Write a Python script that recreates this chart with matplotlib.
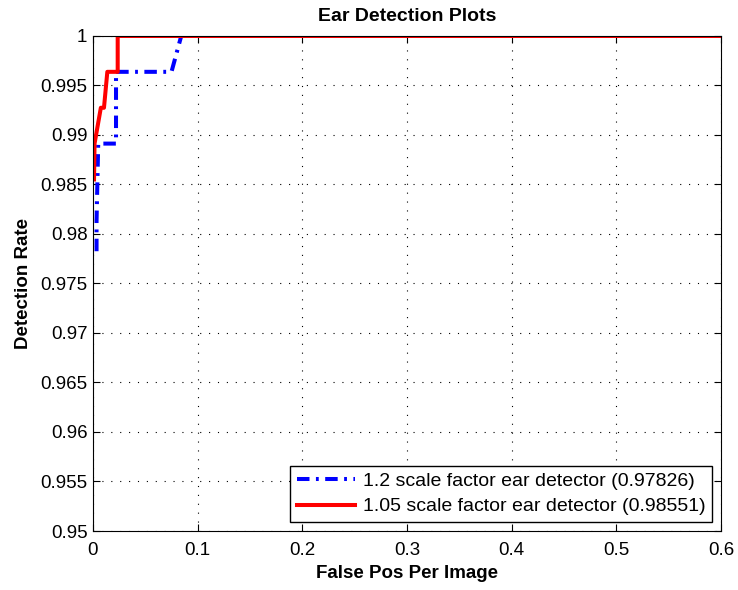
import matplotlib
matplotlib.use("Agg")
import matplotlib.pyplot as plt

plt.rcParams["font.family"] = ["Liberation Sans", "DejaVu Sans"]

# ROC-style curves: false positives per image vs. detection rate
fppi_12 = [0.0034, 0.0034, 0.0050, 0.0096, 0.0220, 0.0220, 0.0750, 0.0843, 0.6]
rate_12 = [0.97826, 0.98130, 0.98913, 0.98913, 0.98913, 0.99638, 0.99638, 1.0, 1.0]

fppi_105 = [0.0010, 0.0015, 0.0075, 0.0105, 0.0137, 0.0236, 0.0236, 0.6]
rate_105 = [0.98551, 0.98913, 0.99275, 0.99275, 0.99638, 0.99638, 1.0, 1.0]

labels = ["1.2 scale factor ear detector (0.97826)",
          "1.05 scale factor ear detector (0.98551)"]

FS = 13.5

fig = plt.figure(figsize=(7.38, 5.9), dpi=100)
ax = fig.add_axes([0.126, 0.1, 0.851, 0.839])

ax.plot(fppi_12, rate_12, color="blue", linestyle=(0, (3.1, 1.6, 0.7, 1.6)),
        linewidth=2.9, label=labels[0])
ax.plot(fppi_105, rate_105, color="red", linestyle="-", linewidth=2.9, label=labels[1])

ax.set_xlim(0, 0.6)
ax.set_ylim(0.95, 1.0)
ax.set_xticks([0, 0.1, 0.2, 0.3, 0.4, 0.5, 0.6])
ax.set_xticklabels(["0", "0.1", "0.2", "0.3", "0.4", "0.5", "0.6"])
yt = [0.95, 0.955, 0.96, 0.965, 0.97, 0.975, 0.98, 0.985, 0.99, 0.995, 1.0]
ax.set_yticks(yt)
ax.set_yticklabels([f"{v:g}" for v in yt])
ax.tick_params(direction="in", labelsize=FS, length=5, top=True, right=True)
ax.tick_params(axis="y", pad=4)
ax.tick_params(axis="x", pad=8)
ax.grid(True, color="black", linestyle=(0, (1, 7)), linewidth=0.8)

ax.set_title("Ear Detection Plots", fontsize=14, fontweight="bold", pad=10.5)
ax.set_xlabel("False Pos Per Image", fontsize=FS, fontweight="bold", labelpad=4)
ax.set_ylabel("Detection Rate", fontsize=FS, fontweight="bold", labelpad=6)

leg = ax.legend(loc="lower right", fontsize=14, fancybox=False, framealpha=1,
                edgecolor="black", handlelength=3.0, handletextpad=0.4,
                borderpad=0.35, labelspacing=0.4, borderaxespad=0.45)
leg.get_frame().set_linewidth(1)

fig.savefig("out.png", dpi=100)
